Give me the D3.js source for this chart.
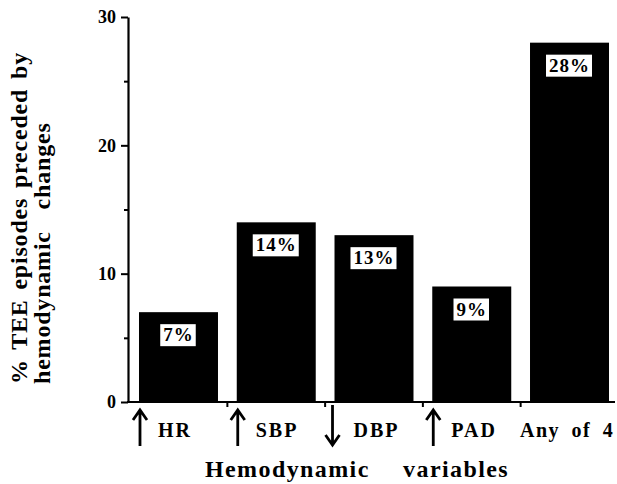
<!DOCTYPE html>
<html>
<head>
<meta charset="utf-8">
<script src="https://cdn.jsdelivr.net/npm/d3@7"></script>
<style>
  html, body { margin: 0; padding: 0; background: #fff; }
  svg { display: block; }
  text { font-family: "Liberation Serif", "Times New Roman", serif; font-weight: bold; fill: #000; }
</style>
</head>
<body>
<svg id="chart" width="617" height="484"></svg>
<script>
// ---- data ----
const categories = ["HR", "SBP", "DBP", "PAD", "Any of 4"];
const arrowDirs = ["up", "up", "down", "up", "none"];
const values = [7, 14, 13, 9, 28];
const yTicks = [0, 10, 20, 30];
const yMinorTicks = [5, 15, 25];
const yTitleLines = ["% TEE episodes preceded by", "hemodynamic changes"];
const xTitle = "Hemodynamic variables";

// ---- layout ----
const W = 617, H = 484;
const svg = d3.select("#chart");
svg.append("rect").attr("width", W).attr("height", H).attr("fill", "#fff");

const y0 = 402, yTop = 17, axisX = 128;
const y = d3.scaleLinear().domain([0, 30]).range([y0, yTop]);
const x = d3.scaleBand().domain(categories).range([axisX, 620])
  .paddingInner(0.192).paddingOuter(0.1125);
const bw = x.bandwidth();
const gap = x.step() - bw;

// bars
svg.append("g").selectAll("rect").data(categories).join("rect")
  .attr("x", d => x(d))
  .attr("y", (d, i) => y(values[i]))
  .attr("width", bw)
  .attr("height", (d, i) => y0 - y(values[i]))
  .attr("fill", "#000");

// value labels with white boxes
const lab = svg.append("g");
categories.forEach((c, i) => {
  const cx = x(c) + bw / 2;
  const top = y(values[i]) + 12;
  const g = lab.append("g");
  const t = g.append("text")
    .attr("x", cx)
    .attr("y", top + 17)
    .attr("text-anchor", "middle")
    .style("font-size", "19px")
    .style("letter-spacing", "1px")
    .text(values[i] + "%");
  const tl = t.node().getComputedTextLength();
  g.insert("rect", "text")
    .attr("x", cx - tl / 2 - 3)
    .attr("y", top)
    .attr("width", tl + 5)
    .attr("height", 22)
    .attr("fill", "#fff");
});

// y axis
const yAxis = svg.append("g").attr("transform", `translate(${axisX},0)`)
  .call(d3.axisLeft(y).tickValues(yTicks).tickSize(7).tickSizeOuter(0).tickPadding(5));
yAxis.select(".domain").attr("stroke", "#000").attr("stroke-width", 2.2);
yAxis.selectAll(".tick line").attr("stroke", "#000").attr("stroke-width", 2);
yAxis.selectAll(".tick text")
  .style("font-family", "'Liberation Serif', serif")
  .style("font-weight", "bold")
  .style("font-size", "18px");

const yMinor = svg.append("g").attr("transform", `translate(${axisX},0)`)
  .call(d3.axisLeft(y).tickValues(yMinorTicks).tickSize(4).tickFormat(""));
yMinor.select(".domain").remove();
yMinor.selectAll(".tick line").attr("stroke", "#000").attr("stroke-width", 2);

// x axis line + ticks between bars
svg.append("line")
  .attr("x1", axisX - 1).attr("x2", 615)
  .attr("y1", y0).attr("y2", y0)
  .attr("stroke", "#000").attr("stroke-width", 2.2);
svg.append("g").selectAll("line").data(categories.slice(1)).join("line")
  .attr("x1", d => x(d) - gap / 2).attr("x2", d => x(d) - gap / 2)
  .attr("y1", y0).attr("y2", y0 + 5)
  .attr("stroke", "#000").attr("stroke-width", 2);

// x tick labels with arrows
const xl = svg.append("g");
categories.forEach((c, i) => {
  const x0 = x(c);
  const dir = arrowDirs[i];
  if (dir === "up") {
    xl.append("path")
      .attr("d", `M${x0 + 1},446 L${x0 + 1},410 M${x0 - 6},420 L${x0 + 1},410 L${x0 + 8},420`)
      .attr("fill", "none").attr("stroke", "#000").attr("stroke-width", 2.8);
  } else if (dir === "down") {
    xl.append("path")
      .attr("d", `M${x0 - 2},405 L${x0 - 2},445 M${x0 - 9},435 L${x0 - 2},445 L${x0 + 5},435`)
      .attr("fill", "none").attr("stroke", "#000").attr("stroke-width", 2.8);
  }
  const t = xl.append("text")
    .attr("y", 437)
    .style("font-size", "20px")
    .style("letter-spacing", "2px")
    .text(c);
  if (dir === "none") {
    t.attr("x", x0 - 10).attr("text-anchor", "start")
      .style("letter-spacing", "1.5px").style("word-spacing", "5px");
  } else {
    t.attr("x", x0 + 19).attr("text-anchor", "start");
  }
});

// x title
svg.append("text")
  .attr("x", 205).attr("y", 477)
  .style("font-size", "24px")
  .style("letter-spacing", "1.4px")
  .style("word-spacing", "26px")
  .text(xTitle);

// y title (two rotated lines)
const yt = [{ bx: 27, ws: 3 }, { bx: 50, ws: 15 }];
yTitleLines.forEach((s, i) => {
  svg.append("text")
    .attr("transform", `translate(${yt[i].bx},384) rotate(-90)`)
    .attr("text-anchor", "start")
    .style("font-size", "24px")
    .style("letter-spacing", "0.8px")
    .style("word-spacing", yt[i].ws + "px")
    .text(s);
});
</script>
</body>
</html>
